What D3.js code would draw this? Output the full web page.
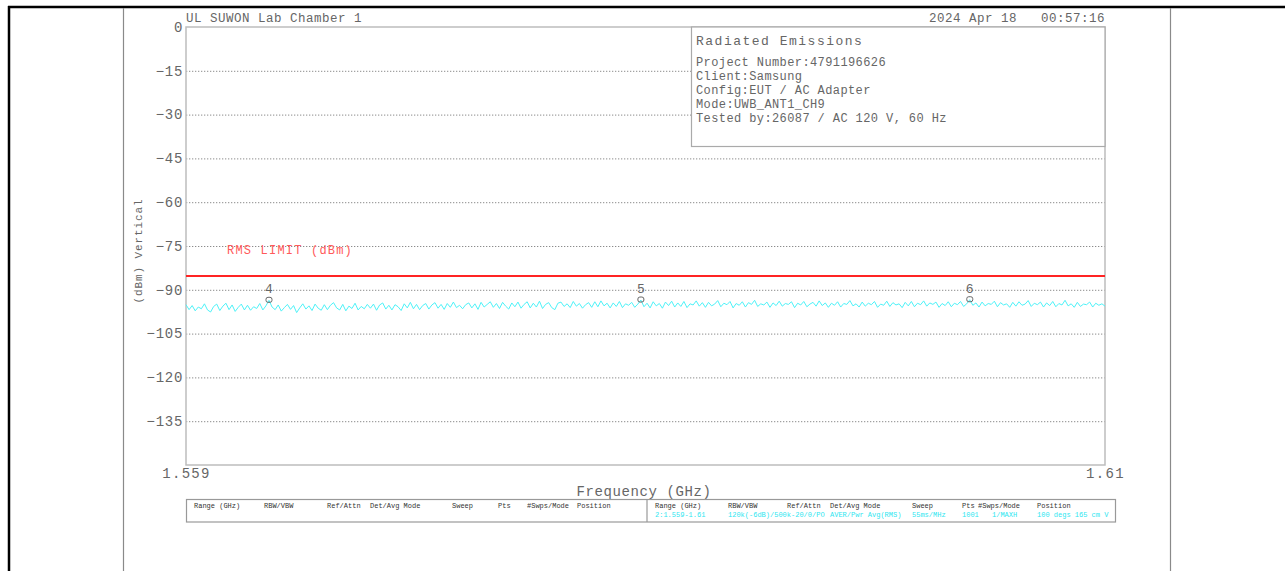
<!DOCTYPE html>
<html>
<head>
<meta charset="utf-8">
<script src="https://cdn.jsdelivr.net/npm/d3@7"></script>
<style>
body{margin:0;background:#fff;}
text{font-family:"Liberation Mono","DejaVu Sans Mono",monospace;white-space:pre;}
</style>
</head>
<body>
<script>
// chart values
const yTicks = [0,-15,-30,-45,-60,-75,-90,-105,-120,-135];
const xTicks = [1.559,1.61];
const fStart = 1.559, fStop = 1.61;
const limitLevel = -85.3;
const levels = [
 -95.1,-96.8,-95.4,-97.2,-95.9,-96.5,-94.8,-96.9,-97.6,-95.7,
 -94.9,-97.1,-95.6,-94.6,-96.8,-95.2,-97.4,-96.0,-94.9,-96.9,
 -95.3,-97.0,-95.8,-96.4,-94.7,-96.9,-95.5,-93.6,-95.9,-96.8,
 -95.2,-97.3,-96.1,-95.0,-96.7,-95.4,-97.8,-96.2,-94.8,-96.6,
 -95.5,-97.1,-94.9,-96.3,-97.0,-95.1,-96.8,-95.3,-94.4,-96.2,
 -96.9,-95.0,-97.2,-95.6,-96.4,-94.6,-96.9,-95.7,-96.5,-95.0,
 -96.3,-94.9,-97.0,-95.2,-94.5,-96.6,-95.3,-96.9,-95.1,-95.8,
 -97.1,-94.8,-96.2,-94.3,-96.5,-95.0,-96.8,-95.4,-94.7,-96.6,
 -95.2,-94.4,-96.3,-95.0,-96.7,-94.7,-96.0,-94.2,-96.1,-95.3,
 -96.5,-95.1,-94.5,-96.2,-94.8,-96.7,-94.3,-95.9,-95.0,-94.1,
 -96.0,-94.7,-96.4,-94.3,-95.6,-96.6,-94.5,-95.8,-94.2,-96.3,
 -95.0,-94.1,-96.2,-94.6,-95.9,-93.9,-96.4,-95.0,-94.4,-96.1,
 -96.8,-94.6,-94.2,-95.7,-94.8,-96.1,-94.0,-95.6,-94.7,-96.3,
 -95.1,-94.4,-96.0,-94.1,-95.8,-93.8,-95.5,-94.6,-96.2,-94.5,
 -95.7,-94.0,-96.1,-94.8,-95.3,-94.3,-96.0,-94.9,-93.5,-95.8,
 -94.6,-96.2,-94.1,-95.5,-94.7,-96.3,-94.2,-95.4,-93.9,-95.9,
 -94.5,-95.7,-94.0,-96.1,-94.8,-95.2,-93.8,-95.6,-94.4,-96.0,
 -94.3,-95.5,-94.9,-93.7,-95.8,-94.6,-95.1,-94.0,-96.2,-94.7,
 -95.3,-94.1,-95.9,-94.4,-95.0,-93.6,-95.7,-94.8,-95.2,-94.2,
 -96.0,-94.5,-95.4,-93.9,-95.6,-94.7,-95.0,-94.1,-96.1,-94.6,
 -95.2,-94.0,-95.8,-94.9,-94.3,-95.6,-93.8,-95.4,-94.5,-96.0,
 -94.6,-95.3,-94.1,-95.9,-94.7,-95.0,-93.7,-95.5,-94.8,-95.9,
 -94.2,-95.6,-94.6,-95.1,-94.0,-96.0,-94.9,-95.3,-93.9,-95.7,
 -94.4,-95.2,-94.8,-96.1,-94.3,-95.5,-94.0,-95.8,-94.6,-95.1,
 -93.8,-95.6,-94.5,-95.0,-94.2,-96.0,-94.7,-95.4,-94.1,-95.8,
 -94.6,-95.1,-94.0,-95.7,-94.8,-93.4,-95.3,-94.5,-95.9,-94.2,
 -95.5,-94.7,-95.0,-93.9,-95.8,-94.4,-95.2,-94.8,-96.0,-94.3,
 -95.6,-94.1,-95.3,-94.9,-93.7,-95.7,-94.6,-95.1,-94.2,-95.9,
 -94.5,-95.4,-94.0,-95.8,-94.7,-95.2,-93.6,-95.5,-94.8,-96.0,
 -94.3,-95.7,-94.9,-95.1,-94.2,-95.9,-94.6,-95.3,-94.8,-95.6
];
const markerNames = ['4','5','6'];
const markerIdx = [27,148,255];
const infoTitle = 'Radiated Emissions';
const infoLines = ['Project Number:4791196626','Client:Samsung','Config:EUT / AC Adapter','Mode:UWB_ANT1_CH9','Tested by:26087 / AC 120 V, 60 Hz'];
const tableHeads = ['Range (GHz)','RBW/VBW','Ref/Attn','Det/Avg Mode','Sweep','Pts','#Swps/Mode','Position'];
const tableValues = ['2:1.559-1.61','120k(-6dB)/500k-20/0/PO','','AVER/Pwr Avg(RMS)','55ms/MHz','1001','1/MAXH','100 degs 165 cm V'];

// layout
const colLeft = [194,264,327,370,452,498,527,577];
const colRight = [655,728,787,830,912,962,978,1037];
const valRight = [655,728,787,830,912,962,992,1037];

const svg = d3.select('body').append('svg')
              .attr('width',1285)
              .attr('height',571);

// page frame
svg.append('line').attr('x1',8).attr('x2',1285).attr('y1',7).attr('y2',7).style('stroke','#000').style('stroke-width',2.5);
svg.append('line').attr('x1',9).attr('x2',9).attr('y1',6).attr('y2',571).style('stroke','#000').style('stroke-width',2.5);
svg.append('line').attr('x1',123.5).attr('x2',123.5).attr('y1',8).attr('y2',571).style('stroke','#8a8a8a').style('stroke-width',1.2);
svg.append('line').attr('x1',1170.5).attr('x2',1170.5).attr('y1',8).attr('y2',571).style('stroke','#8a8a8a').style('stroke-width',1.2);

const x = d3.scaleLinear().domain([fStart,fStop]).range([186,1105]);
const y = d3.scaleLinear().domain([-150,0]).range([465,27]);
const freqAt = i => fStart + i*(fStop-fStart)/(levels.length-1);

// grid + y labels
const yAxis = svg.append('g').attr('transform','translate(186,0)')
                 .call(d3.axisLeft(y).tickValues(yTicks).tickSize(-919).tickPadding(3).tickFormat(d3.format('d')));
yAxis.select('.domain').remove();
yAxis.selectAll('line').style('stroke','#8c8c8c').style('stroke-dasharray','1.3,1.7').style('opacity',d => d===0?0:1);
yAxis.selectAll('text').attr('dy','0.3em').style('font-size','14px').style('fill','#666').style('letter-spacing','0.7px');

// x labels
const xAxis = svg.append('g').attr('transform','translate(0,465)')
                 .call(d3.axisBottom(x).tickValues(xTicks).tickSize(0).tickPadding(3).tickFormat(d => String(d)));
xAxis.select('.domain').remove();
xAxis.selectAll('text').style('font-size','14px').style('fill','#666').style('letter-spacing','1.3px');

// plot frame
svg.append('rect').attr('x',186).attr('y',27).attr('width',919).attr('height',438)
   .style('fill','none').style('stroke','#bdbdbd').style('stroke-width',1.5);

// info box
svg.append('rect').attr('x',691.5).attr('y',27).attr('width',413.5).attr('height',119.5)
   .style('fill','#fff').style('stroke','#aaa').style('stroke-width',1.2);
svg.append('text').attr('x',696).attr('y',45).text(infoTitle)
   .style('font-size','13px').style('fill','#666').style('letter-spacing','1.5px');
svg.append('g').selectAll('text').data(infoLines).join('text')
   .attr('x',696).attr('y',(d,i) => 66 + i*14).text(d => d)
   .style('font-size','12px').style('fill','#666').style('letter-spacing','0.4px');

// headers
svg.append('text').attr('x',186).attr('y',22).text('UL SUWON Lab Chamber 1')
   .style('font-size','12.5px').style('fill','#666').style('letter-spacing','0.5px');
svg.append('text').attr('x',1105).attr('y',22).attr('text-anchor','end').text('2024 Apr 18   00:57:16')
   .style('font-size','12.5px').style('fill','#666').style('letter-spacing','0.5px');

svg.append('text').attr('x',644).attr('y',496).attr('text-anchor','middle').text('Frequency (GHz)')
   .style('font-size','14px').style('fill','#666').style('letter-spacing','0.6px');
svg.append('text').attr('transform','translate(142,251) rotate(-90)').attr('text-anchor','middle').text('(dBm) Vertical')
   .style('font-size','11px').style('fill','#666').style('letter-spacing','0.9px');

// limit
svg.append('line').attr('x1',186).attr('x2',1105).attr('y1',y(limitLevel)).attr('y2',y(limitLevel))
   .style('stroke','#ff2424').style('stroke-width',2);
svg.append('text').attr('x',227).attr('y',254).text('RMS LIMIT (dBm)')
   .style('font-size','12px').style('fill','#ff5a5a').style('letter-spacing','1.2px');

// trace
svg.append('path').datum(levels)
   .attr('d', d3.line().x((d,i) => x(freqAt(i))).y(d => y(d)))
   .style('fill','none').style('stroke','#4df2f8').style('stroke-width',1);

// markers
const mk = svg.append('g').selectAll('g').data(markerIdx).join('g')
              .attr('transform',d => `translate(${x(freqAt(d))},${y(levels[d])})`);
mk.append('rect').attr('x',-3).attr('y',-3).attr('width',6).attr('height',5).attr('rx',2)
  .style('fill','none').style('stroke','#666').style('stroke-width',1);
mk.append('text').attr('x',0).attr('y',-7).attr('text-anchor','middle').text((d,i) => markerNames[i])
  .style('font-size','13px').style('fill','#666');

// setting table
svg.append('rect').attr('x',186.5).attr('y',499.5).attr('width',929).attr('height',22.5)
   .style('fill','none').style('stroke','#999').style('stroke-width',1.2);
svg.append('line').attr('x1',647).attr('x2',647).attr('y1',499.5).attr('y2',522)
   .style('stroke','#999').style('stroke-width',1.2);
const tbl = svg.append('g').style('font-family','"Liberation Sans Narrow","Liberation Sans",sans-serif').style('font-size','7px');
tbl.selectAll('.hl').data(tableHeads).join('text').attr('class','hl')
   .attr('x',(d,i) => colLeft[i]).attr('y',508).text(d => d).style('fill','#333');
tbl.selectAll('.hr').data(tableHeads).join('text').attr('class','hr')
   .attr('x',(d,i) => colRight[i]).attr('y',508).text(d => d).style('fill','#333');
tbl.selectAll('.vr').data(tableValues).join('text').attr('class','vr')
   .attr('x',(d,i) => valRight[i]).attr('y',517).text(d => d).style('fill','#2ee6f0');
</script>
</body>
</html>
